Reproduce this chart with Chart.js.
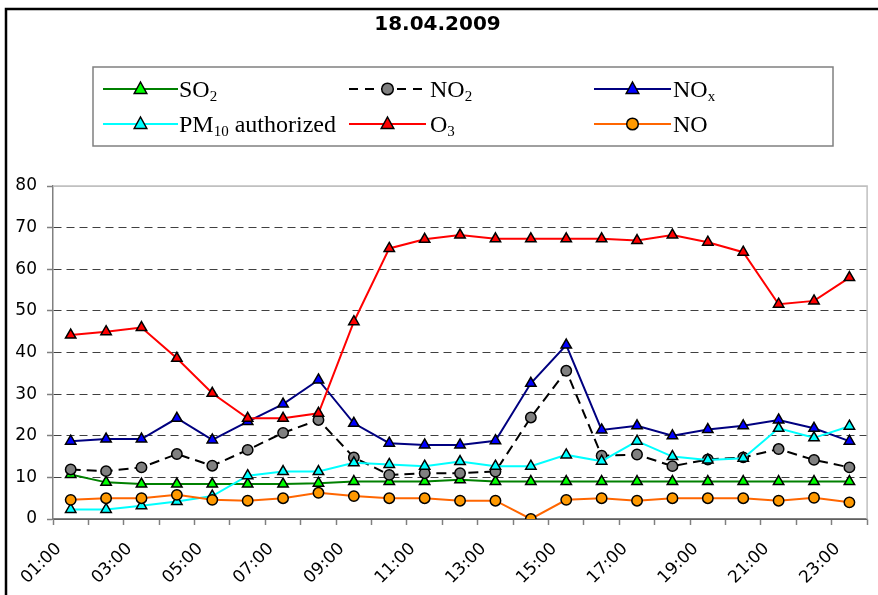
<!DOCTYPE html>
<html>
<head>
<meta charset="utf-8">
<script src="https://cdn.jsdelivr.net/npm/chart.js@4"></script>
<style>
  html, body { margin: 0; padding: 0; background: #fff; }
  #wrap { width: 878px; height: 595px; }
</style>
</head>
<body>
<div id="wrap"><canvas id="chart" width="878" height="595"></canvas></div>
<script>
// hourly readings, 18.04.2009
const hours = ['01:00', '02:00', '03:00', '04:00', '05:00', '06:00', '07:00', '08:00', '09:00', '10:00', '11:00', '12:00',
  '13:00', '14:00', '15:00', '16:00', '17:00', '18:00', '19:00', '20:00', '21:00', '22:00', '23:00'];

const so2 = [10.7, 8.8, 8.4, 8.4, 8.4, 8.4, 8.4, 8.6, 9, 9, 9, 9.4, 9, 9, 9, 9, 9, 9, 9, 9, 9, 9, 9];
const no2 = [11.9, 11.5, 12.4, 15.6, 12.8, 16.6, 20.7, 23.8, 14.8, 10.6, 11, 11, 11.4, 24.4, 35.6, 15.2, 15.5, 12.7, 14.3, 14.8, 16.8, 14.2, 12.4];
const nox = [18.7, 19.2, 19.2, 24.2, 19, 23.4, 27.6, 33.4, 23, 18.2, 17.8, 17.8, 18.8, 32.6, 41.8, 21.4, 22.4, 20, 21.5, 22.4, 23.8, 21.8, 18.7];
const pm10 = [2.3, 2.3, 3.2, 4.2, 5.5, 10.4, 11.4, 11.4, 13.5, 13.1, 12.7, 13.8, 12.7, 12.7, 15.4, 13.9, 18.7, 15, 14.2, 14.6, 21.8, 19.5, 22.3];
const o3 = [44.2, 45, 46, 38.6, 30.2, 24.2, 24.2, 25.4, 47.4, 65, 67.2, 68.2, 67.3, 67.3, 67.3, 67.3, 66.9, 68.2, 66.5, 64.1, 51.6, 52.4, 58];
const no = [4.6, 5, 5, 5.8, 4.6, 4.4, 5, 6.3, 5.5, 5, 5, 4.4, 4.4, 0, 4.6, 5, 4.4, 5, 5, 5, 4.4, 5.1, 4];

// legend text split as [base, subscript, rest]
const legendNames = [['SO', '2', ''], ['NO', '2', ''], ['NO', 'x', ''], ['PM', '10', ' authorized'], ['O', '3', ''], ['NO', '', '']];
const yTicks = [0, 10, 20, 30, 40, 50, 60, 70, 80];

const mk = (label, data, line, fill, style, order, dash) => ({
  label, data, order,
  borderColor: line, borderWidth: 2, borderDash: dash || [],
  pointStyle: style, pointRadius: style === 'triangle' ? 6 : 5.2,
  pointBackgroundColor: fill, pointBorderColor: '#000', pointBorderWidth: 1.5,
  tension: 0, fill: false
});

// frame, plot border and the boxed 3-column legend
const decor = {
  id: 'decor',
  beforeDatasetsDraw(chart) {
    const { ctx, chartArea: a } = chart;
    ctx.save();
    ctx.strokeStyle = '#c0c0c0';
    ctx.lineWidth = 1.5;
    ctx.beginPath();
    ctx.moveTo(a.left, a.top);
    ctx.lineTo(a.right, a.top);
    ctx.lineTo(a.right, a.bottom);
    ctx.stroke();
    ctx.restore();
  },
  afterDraw(chart) {
    const ctx = chart.ctx;
    ctx.save();
    ctx.strokeStyle = '#000';
    ctx.lineWidth = 2.5;
    ctx.beginPath();
    ctx.moveTo(6, 600);
    ctx.lineTo(6, 9);
    ctx.lineTo(880, 9);
    ctx.stroke();

    ctx.strokeStyle = '#808080';
    ctx.lineWidth = 1.5;
    ctx.strokeRect(93, 67, 740, 79);

    const cols = [[103, 178, 179], [349, 426, 430], [594, 671, 673]];
    const rows = [89, 124];
    chart.data.datasets.forEach((ds, i) => {
      const [x0, x1, tx] = cols[i % 3];
      const y = rows[Math.floor(i / 3)];
      ctx.strokeStyle = ds.borderColor;
      ctx.lineWidth = ds.borderWidth;
      ctx.setLineDash(ds.borderDash.length ? [9, 7] : []);
      ctx.beginPath();
      ctx.moveTo(x0, y);
      ctx.lineTo(x1, y);
      ctx.stroke();
      ctx.setLineDash([]);
      const mx = (x0 + x1) / 2;
      ctx.fillStyle = ds.pointBackgroundColor;
      ctx.strokeStyle = '#000';
      ctx.lineWidth = 1.5;
      ctx.beginPath();
      if (ds.pointStyle === 'triangle') {
        ctx.moveTo(mx, y - 7);
        ctx.lineTo(mx + 6.3, y + 4.5);
        ctx.lineTo(mx - 6.3, y + 4.5);
        ctx.closePath();
      } else {
        ctx.arc(mx, y, 5.8, 0, Math.PI * 2);
      }
      ctx.fill();
      ctx.stroke();

      const [base, sub, rest] = legendNames[i];
      ctx.fillStyle = '#000';
      ctx.textBaseline = 'alphabetic';
      ctx.font = '24px "Liberation Serif"';
      ctx.fillText(base, tx, y + 8);
      let w = ctx.measureText(base).width;
      if (sub) {
        ctx.font = '15px "Liberation Serif"';
        ctx.fillText(sub, tx + w, y + 12);
        w += ctx.measureText(sub).width;
      }
      if (rest) {
        ctx.font = '24px "Liberation Serif"';
        ctx.fillText(rest, tx + w, y + 8);
      }
    });
    ctx.restore();
  }
};

new Chart(document.getElementById('chart'), {
  type: 'line',
  data: {
    labels: hours,
    datasets: [
      mk('SO2', so2, '#008000', '#00ff00', 'triangle', 6),
      mk('NO2', no2, '#000000', '#808080', 'circle', 5, [10, 6]),
      mk('NOx', nox, '#000080', '#0000ff', 'triangle', 4),
      mk('PM10 authorized', pm10, '#00ffff', '#00ffff', 'triangle', 3),
      mk('O3', o3, '#ff0000', '#ff0000', 'triangle', 2),
      mk('NO', no, '#ff6600', '#ff9900', 'circle', 1)
    ]
  },
  options: {
    responsive: false,
    animation: false,
    layout: { padding: { left: 0, right: 3, top: 0, bottom: 0 } },
    plugins: {
      legend: { display: false },
      tooltip: { enabled: false },
      title: {
        display: true,
        text: '18.04.2009',
        color: '#000',
        font: { family: 'DejaVu Sans', size: 20, weight: 'bold' },
        padding: { top: 13, bottom: 149 }
      }
    },
    scales: {
      x: {
        offset: true,
        grid: { offset: true, drawOnChartArea: false, drawTicks: true, tickLength: 6, tickColor: '#808080', tickWidth: 1.5 },
        border: { display: true, color: '#808080', width: 1.5 },
        ticks: {
          autoSkip: false, minRotation: 45, maxRotation: 45, padding: 14, labelOffset: -12,
          color: '#000', font: { family: 'DejaVu Sans', size: 17 },
          callback: (v, i) => (i % 2 === 0 ? hours[i] : '')
        },
        afterFit: s => { s.height = 76; }
      },
      y: {
        min: 0, max: 80,
        afterBuildTicks: s => { s.ticks = yTicks.map(v => ({ value: v })); },
        grid: {
          color: c => (c.tick && c.tick.value === 80 ? '#c0c0c0' : '#404040'),
          lineWidth: 1, drawTicks: true, tickLength: 6, tickColor: '#808080', tickWidth: 1.5
        },
        border: {
          display: true, color: '#808080', width: 1.5,
          dash: c => (c.tick && c.tick.value !== 80 && c.tick.value !== 0 ? [8, 5] : [])
        },
        ticks: { color: '#000', padding: 10, font: { family: 'DejaVu Sans', size: 17 } },
        afterFit: s => { s.width = 53; }
      }
    }
  },
  plugins: [decor]
});
</script>
</body>
</html>
